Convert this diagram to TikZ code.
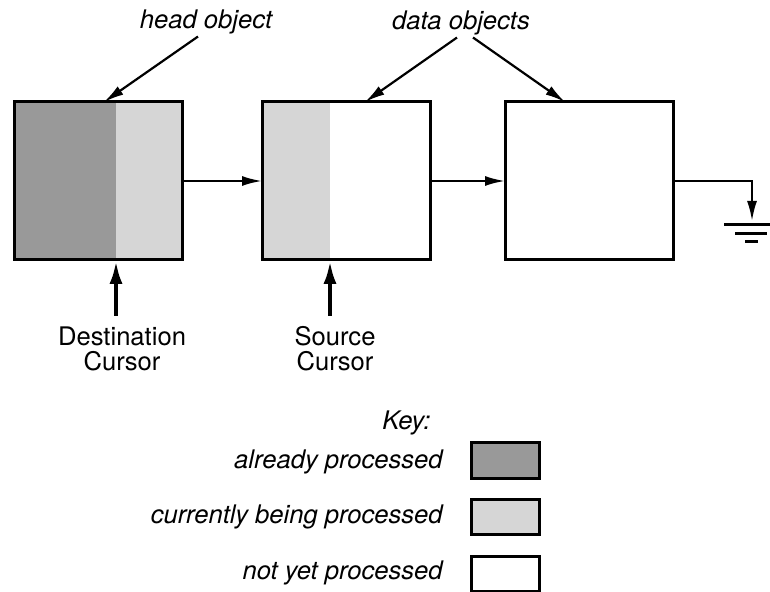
\documentclass[tikz,border=0pt]{standalone}
\usepackage{fontspec}
\setmainfont{TeX Gyre Heros}
\usetikzlibrary{positioning, calc, arrows.meta}

\definecolor{doneshade}{gray}{0.60}
\definecolor{busyshade}{gray}{0.84}

\tikzset{
    objbox/.style={draw, line width=1.5pt, inner sep=0pt, outer sep=0pt,
        minimum width=84pt, minimum height=79pt},
    keybox/.style={draw, line width=1.5pt, inner sep=0pt,
        minimum width=34pt, minimum height=17.5pt},
    link/.style={line width=1.1pt, -{Latex[length=10pt, width=5pt]}},
    cursorarrow/.style={line width=2.2pt, -{Latex[length=12pt, width=6.5pt]}},
    lbl/.style={font=\fontsize{12.8pt}{14pt}\selectfont\itshape, inner sep=1pt},
    cursorlbl/.style={font=\fontsize{12.8pt}{12.5pt}\selectfont, align=center,
        inner sep=0pt}
}

\begin{document}
\begin{tikzpicture}[x=0.5pt, y=-0.5pt]
        \useasboundingbox (0,0) rectangle (770,592);

        % split points between the shaded parts
        \coordinate (hsplit) at (116,260);
        \coordinate (dsplit) at (330,260);
        % feet of the cursor arrows
        \coordinate (hfoot) at (116,316);
        \coordinate (dfoot) at (330,316);

        % shading of the objects
        \fill[doneshade] (14,102) rectangle (hsplit);
        \fill[busyshade] (116,102) rectangle (182,260);
        \fill[busyshade] (262,102) rectangle (dsplit);

        % the objects
        \node[objbox] (head) at (98,181) {};
        \node[objbox] (dataA) at (346,181) {};
        \node[objbox] (dataB) at (589,181) {};

        % links between the objects
        \draw[link] (head.east) -- (dataA.west);
        \draw[link] (dataA.east) -- (dataB.west);

        % end of the list
        \coordinate (gnd) at (752,221);
        \draw[link] (dataB.east) -| (gnd);
        \draw[line width=1.5pt] (724,225) -- (770,225);
        \draw[line width=1.5pt] (735,234) -- (767,234);
        \draw[line width=1.5pt] (745,242) -- (758,242);

        % labels at the top
        \node[lbl] (headlbl) at (206,22) {head object};
        \node[lbl] (datalbl) at (461,23) {data objects};
        \draw[link] ([xshift=-4pt]headlbl.south) -- ([xshift=3pt]head.north);
        \draw[link] ([xshift=-2pt]datalbl.south) -- ([xshift=9.5pt]dataA.north);
        \draw[link] ([xshift=6pt]datalbl.south) -- ([xshift=-12pt]dataB.north);

        % cursors
        \node[cursorlbl] (dest) at (122,349) {Destination\\Cursor};
        \node[cursorlbl] (src) at (335,349) {Source\\Cursor};
        \draw[cursorarrow] (hfoot) -- (hsplit);
        \draw[cursorarrow] (dfoot) -- (dsplit);

        % the key
        \node[lbl, anchor=east] (keylbl) at (433,423) {Key:};
        \node[keybox, fill=doneshade] (keydone) at (505,460.5) {};
        \node[keybox, fill=busyshade] (keybusy) at (505,516.5) {};
        \node[keybox] (keytodo) at (505,573.5) {};
        \node[lbl, anchor=east] (donelbl) at (445,462) {already processed};
        \node[lbl, anchor=east] (busylbl) at (445,517) {currently being processed};
        \node[lbl, anchor=east] (todolbl) at (445,573) {not yet processed};
    \end{tikzpicture}
\end{document}
